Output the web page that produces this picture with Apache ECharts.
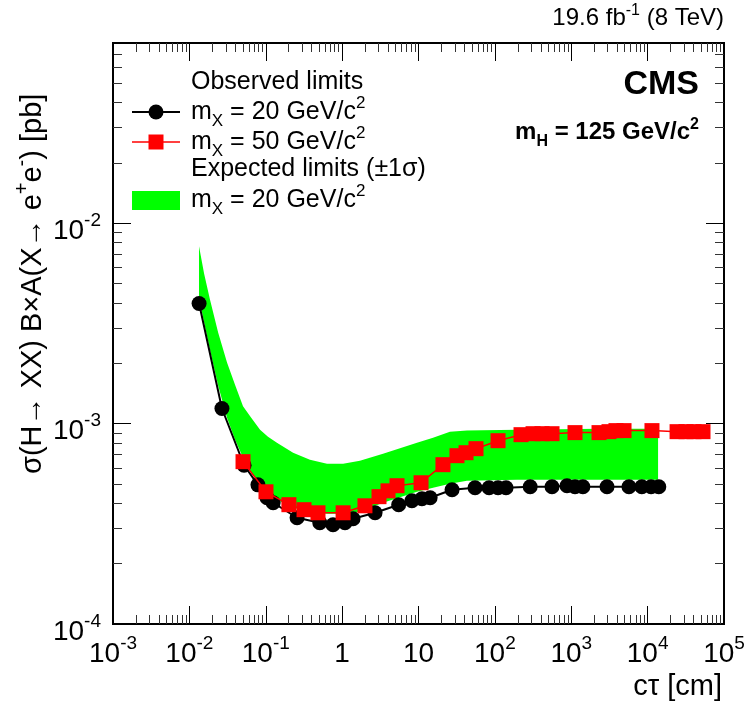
<!DOCTYPE html>
<html>
<head>
<meta charset="utf-8">
<script src="https://cdn.jsdelivr.net/npm/echarts@6/dist/echarts.min.js"></script>
<style>
  html, body { margin: 0; padding: 0; background: #fff; }
  #chart { width: 749px; height: 705px; }
</style>
</head>
<body>
<div id="chart"></div>
<script>
// Observed limits, m_X = 20 GeV/c^2
const obsCtau20 = [0.0134, 0.0267, 0.052, 0.079, 0.104, 0.125, 0.257, 0.51, 0.76, 1.09, 1.39, 2.7, 5.5, 8.2, 11.1, 14.2, 27.5, 55, 84, 110, 140, 290, 560, 880, 1120, 1420, 2940, 5700, 8400, 11100, 14000];
const obsLimit20 = [3.98e-3, 1.19e-3, 6.2e-4, 4.95e-4, 4.27e-4, 4.03e-4, 3.39e-4, 3.2e-4, 3.13e-4, 3.2e-4, 3.35e-4, 3.59e-4, 3.94e-4, 4.12e-4, 4.22e-4, 4.27e-4, 4.68e-4, 4.79e-4, 4.79e-4, 4.79e-4, 4.79e-4, 4.84e-4, 4.84e-4, 4.9e-4, 4.84e-4, 4.84e-4, 4.84e-4, 4.84e-4, 4.84e-4, 4.84e-4, 4.84e-4];

// Observed limits, m_X = 50 GeV/c^2
const obsCtau50 = [0.0504, 0.1007, 0.201, 0.317, 0.483, 1.03, 1.99, 3.04, 3.99, 5.23, 10.8, 20.9, 31.9, 41.9, 56.6, 110, 220, 316, 414, 560, 1120, 2310, 3120, 3850, 4910, 11400, 24300, 31800, 40500, 53100];
const obsLimit50 = [6.46e-4, 4.57e-4, 3.94e-4, 3.72e-4, 3.59e-4, 3.59e-4, 3.89e-4, 4.32e-4, 4.62e-4, 4.9e-4, 5.07e-4, 6.24e-4, 6.92e-4, 7.16e-4, 7.5e-4, 8.22e-4, 8.81e-4, 8.91e-4, 8.91e-4, 8.91e-4, 9.02e-4, 9.02e-4, 9.12e-4, 9.23e-4, 9.23e-4, 9.23e-4, 9.12e-4, 9.12e-4, 9.12e-4, 9.12e-4];

// Expected limit +-1 sigma band, m_X = 20 GeV/c^2
const bandCtau = [0.01337, 0.0156, 0.0186, 0.0238, 0.0311, 0.0397, 0.0504, 0.0645, 0.0842, 0.107, 0.140, 0.228, 0.379, 0.634, 1.03, 1.71, 3.43, 9.55, 15.5, 25.8, 43.1, 195, 2380, 13700];
const bandHigh = [7.67e-3, 5.6e-3, 4.17e-3, 2.85e-3, 2.02e-3, 1.56e-3, 1.22e-3, 1.07e-3, 9.33e-4, 8.6e-4, 8.04e-4, 7.16e-4, 6.61e-4, 6.31e-4, 6.31e-4, 6.53e-4, 7.08e-4, 8.04e-4, 8.51e-4, 9.12e-4, 9.23e-4, 9.33e-4, 9.44e-4, 9.44e-4];
const bandLow = [4.27e-3, 3.2e-3, 2.34e-3, 1.55e-3, 1.07e-3, 8.3e-4, 6.76e-4, 5.7e-4, 4.95e-4, 4.5e-4, 4.17e-4, 3.8e-4, 3.63e-4, 3.55e-4, 3.55e-4, 3.63e-4, 4.03e-4, 4.57e-4, 4.79e-4, 5.01e-4, 5.19e-4, 5.25e-4, 5.25e-4, 5.25e-4];

// Labelled decades
const xTickValues = [1e-3, 1e-2, 1e-1, 1, 10, 1e2, 1e3, 1e4, 1e5];
const yTickValues = [1e-4, 1e-3, 1e-2];

const FONT = '"Liberation Sans", Arial, Helvetica, sans-serif';
const X_MIN = 1e-3, X_MAX = 1e5, Y_MIN = 1e-4, Y_MAX = 0.0794;

const ctx2d = document.createElement('canvas').getContext('2d');
function measure(str, size, weight) {
  ctx2d.font = `${weight || 'normal'} ${size}px ${FONT}`;
  return ctx2d.measureText(str).width;
}

// Lay out text pieces with super/subscripts along one baseline
function richGroup(parts, opt) {
  const size = opt.size, weight = opt.weight || 'normal';
  let x = 0;
  const kids = [];
  for (const [str, kind] of parts) {
    const s = kind ? Math.round(size * 0.68) : size;
    const shift = kind === 'sup' ? -0.45 * size : kind === 'sub' ? 0.24 * size : 0;
    kids.push({
      type: 'text', x: x, y: shift - 0.35 * s,
      style: { text: str, fontSize: s, fontFamily: FONT, fontWeight: weight, fill: '#000', align: 'left', verticalAlign: 'middle' }
    });
    x += measure(str, s, weight);
  }
  let gx = opt.x;
  if (opt.align === 'right') gx -= x;
  const g = { type: 'group', x: gx, y: opt.y, children: kids, silent: true };
  if (opt.rotation) { g.x = opt.x; g.rotation = opt.rotation; }
  return g;
}

function isDecade(v, list) {
  return list.some(t => Math.abs(v - t) / t < 1e-6);
}
function decadeLabel(v, list) {
  if (!isDecade(v, list)) return '';
  const e = Math.round(Math.log10(v));
  if (e === 0) return '{b|1}';
  if (e === 1) return '{b|10}';
  return '{b|10}{s|' + e + '}';
}
const labelRich = {
  b: { fontSize: 28, fontFamily: FONT, color: '#000', lineHeight: 34, verticalAlign: 'bottom' },
  s: { fontSize: 19, fontFamily: FONT, color: '#000', lineHeight: 16, verticalAlign: 'top' }
};

function logAxis(kind, pos, min, max, showLabels) {
  const ax = {
    type: 'log', logBase: 10, position: pos, min: min, max: max,
    interval: 1, splitNumber: 8,
    axisLine: { show: false },
    axisTick: { show: true, inside: true, length: 18, lineStyle: { color: '#000', width: 1 } },
    minorTick: { show: true, splitNumber: 9, length: 9, lineStyle: { color: '#333', width: 1 } },
    splitLine: { show: false },
    minorSplitLine: { show: false },
    axisLabel: { show: false }
  };
  if (showLabels) {
    const list = kind === 'x' ? xTickValues : yTickValues;
    ax.axisLabel = {
      show: true, showMinLabel: true, showMaxLabel: true, hideOverlap: false,
      margin: kind === 'x' ? 10 : 12,
      padding: kind === 'x' ? 0 : [10, 0, 0, 0],
      formatter: v => decadeLabel(v, list),
      rich: labelRich
    };
  }
  return ax;
}

const chart = echarts.init(document.getElementById('chart'), null, { renderer: 'canvas' });

const option = {
  animation: false,
  backgroundColor: '#fff',
  grid: { left: 113, right: 25, top: 43, bottom: 81, show: true, borderColor: '#000', borderWidth: 2, backgroundColor: 'transparent' },
  xAxis: [
    logAxis('x', 'bottom', X_MIN, X_MAX, true),
    logAxis('x', 'top', X_MIN, X_MAX, false)
  ],
  yAxis: [
    logAxis('y', 'left', Y_MIN, Y_MAX, true),
    logAxis('y', 'right', Y_MIN, Y_MAX, false)
  ],
  series: [
    {
      type: 'custom', name: 'expected', z: 1, clip: true,
      xAxisIndex: 0, yAxisIndex: 0,
      data: [[bandCtau[0], bandHigh[0]]],
      renderItem: (params, api) => {
        const pts = [];
        for (let i = 0; i < bandCtau.length; i++) pts.push(api.coord([bandCtau[i], bandHigh[i]]));
        for (let i = bandCtau.length - 1; i >= 0; i--) pts.push(api.coord([bandCtau[i], bandLow[i]]));
        return { type: 'polygon', shape: { points: pts }, style: { fill: '#00ff00', stroke: null } };
      }
    },
    {
      type: 'line', name: 'mx20', z: 2,
      data: obsCtau20.map((x, i) => [x, obsLimit20[i]]),
      symbol: 'circle', symbolSize: 15, showAllSymbol: true,
      lineStyle: { color: '#000', width: 2 },
      itemStyle: { color: '#000' }
    },
    {
      type: 'line', name: 'mx50', z: 3,
      data: obsCtau50.map((x, i) => [x, obsLimit50[i]]),
      symbol: 'rect', symbolSize: 15, showAllSymbol: true,
      lineStyle: { color: '#ff0000', width: 1.5 },
      itemStyle: { color: '#ff0000' }
    }
  ],
  graphic: [
    // luminosity / energy
    richGroup([['19.6 fb'], ['-1', 'sup'], [' (8 TeV)']], { x: 724, y: 27, size: 24, align: 'right' }),
    // experiment label
    richGroup([['CMS']], { x: 699, y: 97, size: 34, weight: 'bold', align: 'right' }),
    richGroup([['m'], ['H', 'sub'], [' = 125 GeV/c'], ['2', 'sup']], { x: 699, y: 141, size: 24, weight: 'bold', align: 'right' }),
    // legend
    richGroup([['Observed limits']], { x: 191, y: 91, size: 25 }),
    { type: 'line', shape: { x1: 132, y1: 112, x2: 180, y2: 112 }, style: { stroke: '#000', lineWidth: 2 }, silent: true },
    { type: 'circle', shape: { cx: 156, cy: 112, r: 7.5 }, style: { fill: '#000' }, silent: true },
    richGroup([['m'], ['X', 'sub'], [' = 20 GeV/c'], ['2', 'sup']], { x: 191, y: 121, size: 25 }),
    { type: 'line', shape: { x1: 132, y1: 142, x2: 180, y2: 142 }, style: { stroke: '#ff0000', lineWidth: 1.5 }, silent: true },
    { type: 'rect', shape: { x: 148.5, y: 134.5, width: 15, height: 15 }, style: { fill: '#ff0000' }, silent: true },
    richGroup([['m'], ['X', 'sub'], [' = 50 GeV/c'], ['2', 'sup']], { x: 191, y: 151, size: 25 }),
    richGroup([['Expected limits (\u00b11\u03c3)']], { x: 191, y: 178, size: 25 }),
    { type: 'rect', shape: { x: 132, y: 191, width: 48, height: 19 }, style: { fill: '#00ff00' }, silent: true },
    richGroup([['m'], ['X', 'sub'], [' = 20 GeV/c'], ['2', 'sup']], { x: 191, y: 209, size: 25 }),
    // axis titles
    richGroup([['c\u03c4 [cm]']], { x: 722, y: 697, size: 29, align: 'right' }),
    richGroup([['\u03c3(H\u2192 XX) B\u00d7A(X\u2192 e'], ['+', 'sup'], ['e'], ['-', 'sup'], [') [pb]']], { x: 43, y: 474, size: 29, rotation: Math.PI / 2 })
  ]
};

chart.setOption(option);
</script>
</body>
</html>
